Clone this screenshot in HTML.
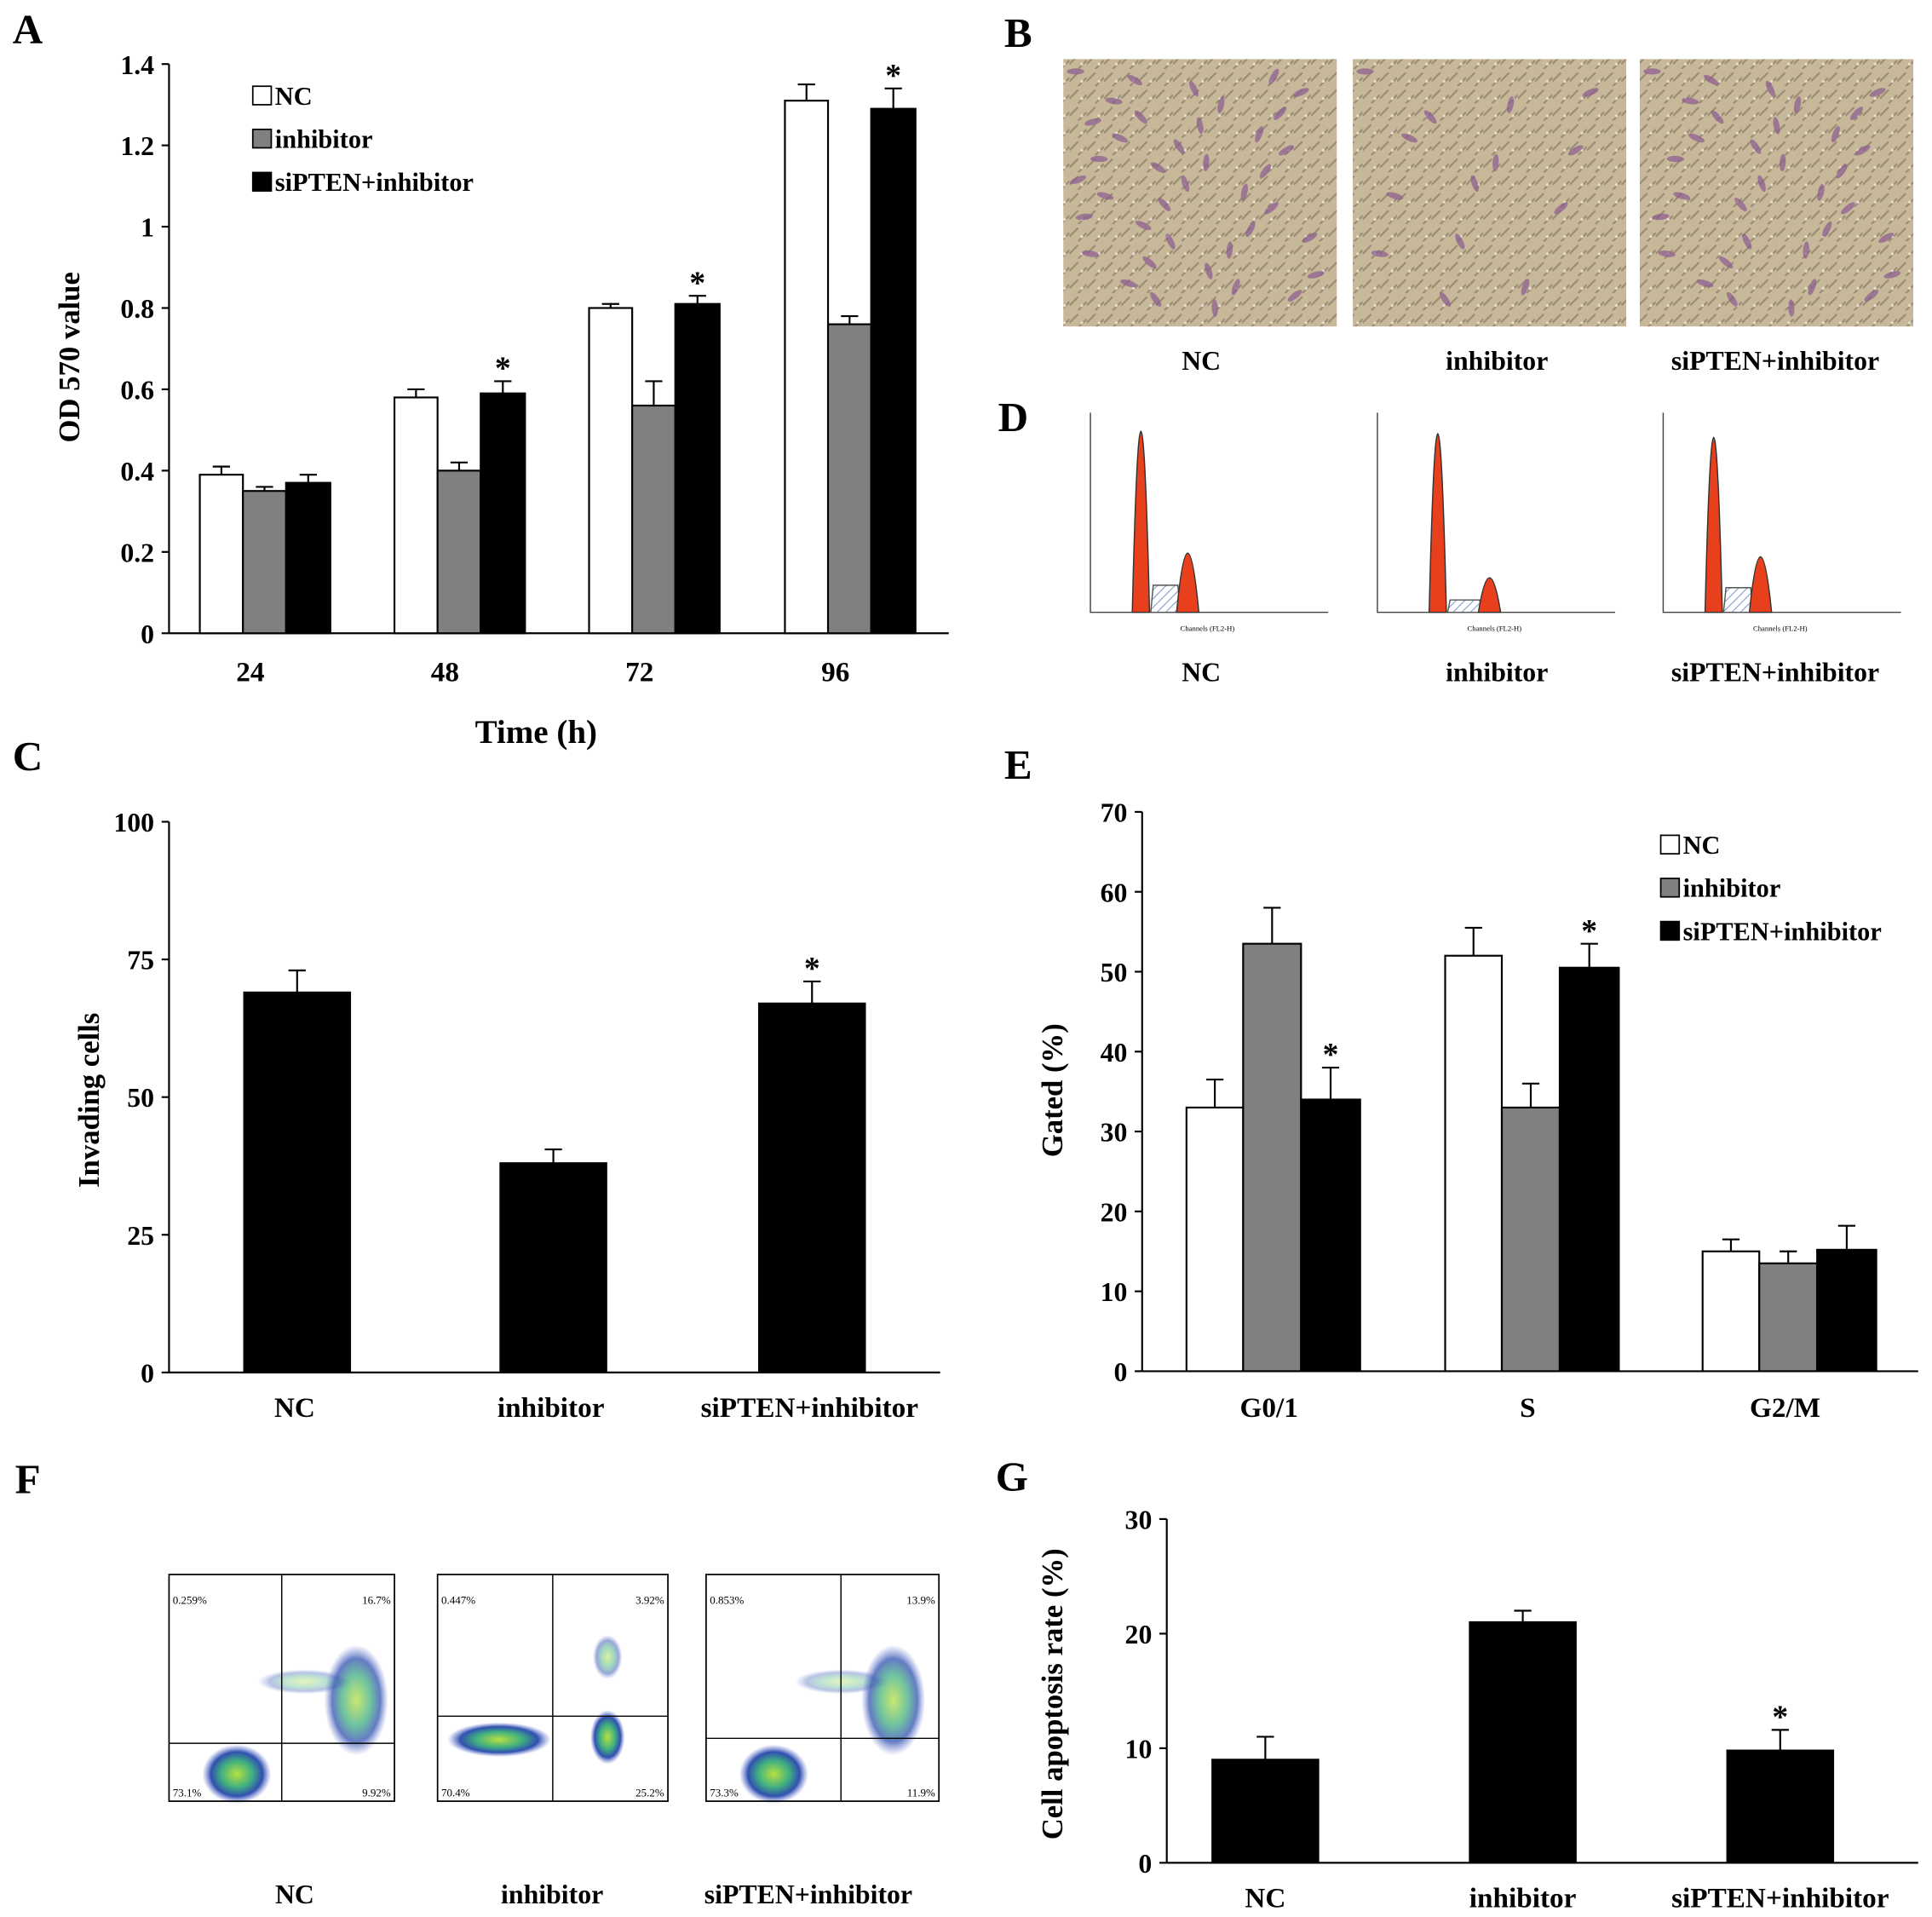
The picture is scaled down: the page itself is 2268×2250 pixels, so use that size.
<!DOCTYPE html>
<html><head><meta charset="utf-8"><style>
html,body{margin:0;padding:0;background:#fff}
svg{display:block}
text{font-family:"Liberation Serif",serif;font-weight:bold;fill:#000}
</style></head><body>
<svg id="s" width="2268" height="2250" viewBox="0 0 1568 1556" xmlns="http://www.w3.org/2000/svg">
<defs>
<pattern id="hatch" width="5" height="5" patternUnits="userSpaceOnUse" patternTransform="rotate(45)"><rect width="5" height="5" fill="#fff"/><line x1="0" y1="0" x2="0" y2="5" stroke="#8899cc" stroke-width="1.5"/></pattern>
<pattern id="tex" width="14" height="14" patternUnits="userSpaceOnUse"><rect width="14" height="14" fill="#c6b898"/><path d="M0 10 L7 3 M7 14 L14 7" stroke="#9a8c74" stroke-width="1.5"/><circle cx="10" cy="10" r="1.2" fill="#e6dccb"/></pattern>
<radialGradient id="blob"><stop offset="0" stop-color="#b8e040"/><stop offset="0.45" stop-color="#40b080"/><stop offset="0.75" stop-color="#3050b0"/><stop offset="1" stop-color="#6070d0" stop-opacity="0"/></radialGradient>
</defs>
<g id="root"></g>
</svg>
<script>
// Panel A data
const aCats=['24','48','72','96'];
const aNC=[0.39,0.58,0.80,1.31];
const aInh=[0.35,0.40,0.56,0.76];
const aSi=[0.37,0.59,0.81,1.29];
const aNCe=[0.02,0.02,0.01,0.04];
const aInhe=[0.01,0.02,0.06,0.02];
const aSie=[0.02,0.03,0.02,0.05];
const aTicks=['0','0.2','0.4','0.6','0.8','1','1.2','1.4'];
const aStar=[false,true,true,true];
// Panel C data
const cCats=['NC','inhibitor','siPTEN+inhibitor'];
const cVals=[69,38,67];
const cErr=[4,2.5,4];
const cTicks=['0','25','50','75','100'];
const cStar=[false,false,true];
// Panel E data
const eCats=['G0/1','S','G2/M'];
const eNC=[33,52,15];
const eInh=[53.5,33,13.5];
const eSi=[34,50.5,15.2];
const eNCe=[3.5,3.5,1.5];
const eInhe=[4.5,3,1.5];
const eSie=[4,3,3];
const eTicks=['0','10','20','30','40','50','60','70'];
const eStar=[true,true,false];
// Panel G data
const gCats=['NC','inhibitor','siPTEN+inhibitor'];
const gVals=[9,21,9.8];
const gErr=[2,1,1.8];
const gTicks=['0','10','20','30'];
const gStar=[false,false,true];

const NS='http://www.w3.org/2000/svg';
const root=document.getElementById('root');
function el(tag,at,parent,txt){const e=document.createElementNS(NS,tag);for(const k in at)e.setAttribute(k,at[k]);if(txt!==undefined)e.textContent=txt;(parent||root).appendChild(e);return e;}
function label(x,y,t,size,anchor,name,rot){const e=el('text',{x:x,y:y,'font-size':size,'text-anchor':anchor||'middle'},root,t);if(rot)e.setAttribute('transform','rotate(-90 '+x+' '+y+')');

return e;}
function axes(x0,x1,yb,yt,ticks,name){
 const g=el('g',{});
 
 
 el('line',{x1:x0,y1:yt,x2:x0,y2:yb,stroke:'#000','stroke-width':1.5},g);
 el('line',{x1:x0,y1:yb,x2:x1,y2:yb,stroke:'#000','stroke-width':1.5},g);
 const n=ticks.length-1;
 ticks.forEach((t,i)=>{const y=yb-(yb-yt)*i/n;el('line',{x1:x0-6,y1:y,x2:x0,y2:y,stroke:'#000','stroke-width':1.5},g);
  const tx=el('text',{x:x0-12,y:y+8,'font-size':22,'text-anchor':'end'},g,t);
  
  });
}
function bar(x,w,v,e,yb,scale,fill,name,star){
 const y=yb-v*scale;
 const r=el('rect',{x:x,y:y,width:w,height:v*scale,fill:fill,stroke:'#000','stroke-width':1.5});
 
 
 const ye=y-e*scale,cx=x+w/2;
 const l=el('path',{d:'M'+cx+' '+y+'V'+ye+'M'+(cx-7)+' '+ye+'H'+(cx+7),stroke:'#000','stroke-width':1.5,fill:'none'});
 
 
 if(star){label(cx,ye-2,'*',26,'middle','significance-star');}
}
function legend(x,y){
 const items=[['NC','#fff'],['inhibitor','#808080'],['siPTEN+inhibitor','#000']];
 items.forEach((it,i)=>{const yy=y+i*35;const r=el('rect',{x:x,y:yy-15,width:15,height:15,fill:it[1],stroke:'#000','stroke-width':1.2});
  
  
  label(x+18,yy,it[0],21,'start','legend-entry');});
}
const cols=['#fff','#808080','#000'];

// Panel A
label(10,35,'A',34,'start','panel-label-a');
axes(137,770,514,52,aTicks,'panel-a-axes');
const aS=462/1.4;
const aX=[162,320,478,637];
aCats.forEach((c,i)=>{
 bar(aX[i],35,aNC[i],aNCe[i],514,aS,cols[0],'bar-nc-'+c,false);
 bar(aX[i]+35,35,aInh[i],aInhe[i],514,aS,cols[1],'bar-inhibitor-'+c,false);
 bar(aX[i]+70,36,aSi[i],aSie[i],514,aS,cols[2],'bar-sipten-'+c,aStar[i]);
 label(aX[i]+41,553,c,23,'middle','x-tick-label');
});
label(64,290,'OD 570 value',24,'middle','y-axis-title',true);
label(435,603,'Time (h)',27,'middle','x-axis-title');
legend(205,85);

// Panel B
label(815,38,'B',34,'start','panel-label-b');
const bx=[863,1098,1331],bn=['NC','inhibitor','siPTEN+inhibitor'],bc=[975,1215,1441];
bx.forEach((x,i)=>{const r=el('rect',{x:x,y:48,width:222,height:217,fill:'url(#tex)'});
 
 
 for(let k=0;k<[40,14,34][i];k++){const px=x+10+((k*53)%200),py=58+((k*37)%195);
  el('ellipse',{cx:px,cy:py,rx:7,ry:2.5,fill:'#8a5a90',opacity:0.7,transform:'rotate('+((k*47)%180)+' '+px+' '+py+')'});}
 label(bc[i],300,bn[i],22,'middle','image-caption');
});

// Panel D
label(810,350,'D',34,'start','panel-label-d');
const dx=[880,1113,1345],dh1=[147,145,142],dh2=[48,28,45],dS=[22,10,20];
dx.forEach((x,i)=>{const g=el('g',{});
 
 
 el('path',{d:'M'+(x+5)+' 335V497H'+(x+198),stroke:'#444','stroke-width':1,fill:'none'},g);
 const p1=x+46+(i==1?8:0),p2=x+84+(i==1?12:0);
 el('path',{d:'M'+(p1+8)+' 497L'+(p1+10)+' '+(497-dS[i])+'L'+(p2-8)+' '+(497-dS[i])+'L'+(p2-6)+' 497Z',fill:'url(#hatch)',stroke:'#555'},g);
 el('path',{d:'M'+(p1-7)+' 497Q'+p1+' '+(497-2*dh1[i])+' '+(p1+7)+' 497Z',fill:'#e8401c',stroke:'#333'},g);
 el('path',{d:'M'+(p2-9)+' 497Q'+p2+' '+(497-2*dh2[i])+' '+(p2+9)+' 497Z',fill:'#e8401c',stroke:'#333'},g);
 el('text',{x:x+100,y:512,'font-size':6,'text-anchor':'middle',style:'font-weight:normal'},g,'Channels (FL2-H)');
 label(bc[i],553,bn[i],22,'middle','histogram-caption');
});

// Panel C
label(10,625,'C',34,'start','panel-label-c');
axes(137,763,1114,667,cTicks,'panel-c-axes');
const cS=447/100,cX=[198,406,616];
cCats.forEach((c,i)=>{bar(cX[i],86,cVals[i],cErr[i],1114,cS,'#000','bar-'+c,cStar[i]);label(cX[i]+41,1150,c,23,'middle','x-tick-label');});
label(80,893,'Invading cells',24,'middle','y-axis-title',true);

// Panel E
label(815,632,'E',34,'start','panel-label-e');
axes(927,1557,1113,659,eTicks,'panel-e-axes');
const eS=454/70,eX=[963,1173,1382];
eCats.forEach((c,i)=>{
 bar(eX[i],46,eNC[i],eNCe[i],1113,eS,cols[0],'bar-nc-'+c,false);
 bar(eX[i]+46,47,eInh[i],eInhe[i],1113,eS,cols[1],'bar-inhibitor-'+c,false);
 bar(eX[i]+93,48,eSi[i],eSie[i],1113,eS,cols[2],'bar-sipten-'+c,eStar[i]);
 label(eX[i]+67,1150,c,23,'middle','x-tick-label');
});
label(862,885,'Gated (%)',24,'middle','y-axis-title',true);
legend(1348,693);

// Panel F
label(12,1212,'F',34,'start','panel-label-f');
const fx=[137,355,573],fw=[183,187,189];
const fq=[['0.259%','16.7%','73.1%','9.92%'],['0.447%','3.92%','70.4%','25.2%'],['0.853%','13.9%','73.3%','11.9%']];
fx.forEach((x,i)=>{const g=el('g',{});
 
 
 const w=fw[i],qy=i==1?1393:(i==0?1415:1411),qx=x+w*0.5+(i==2?15:0);
 if(i==1){el('ellipse',{cx:x+50,cy:1412,rx:42,ry:14,fill:'url(#blob)'},g);el('ellipse',{cx:x+138,cy:1410,rx:14,ry:22,fill:'url(#blob)'},g);el('ellipse',{cx:x+138,cy:1345,rx:12,ry:18,fill:'url(#blob)',opacity:0.5},g);}
 else{el('ellipse',{cx:x+55,cy:1440,rx:28,ry:24,fill:'url(#blob)'},g);el('ellipse',{cx:x+152,cy:1380,rx:26,ry:45,fill:'url(#blob)',opacity:0.75},g);el('ellipse',{cx:x+110,cy:1365,rx:38,ry:10,fill:'url(#blob)',opacity:0.35},g);}
 el('rect',{x:x,y:1278,width:w,height:184,fill:'none',stroke:'#000','stroke-width':1.2},g);
 el('path',{d:'M'+qx+' 1278V1462M'+x+' '+qy+'H'+(x+w),stroke:'#000','stroke-width':1},g);
 el('text',{x:x+3,y:1302,'font-size':9,style:'font-weight:normal'},g,fq[i][0]);
 el('text',{x:x+w-3,y:1302,'font-size':9,'text-anchor':'end',style:'font-weight:normal'},g,fq[i][1]);
 el('text',{x:x+3,y:1458,'font-size':9,style:'font-weight:normal'},g,fq[i][2]);
 el('text',{x:x+w-3,y:1458,'font-size':9,'text-anchor':'end',style:'font-weight:normal'},g,fq[i][3]);
 label([239,448,656][i],1545,bn[i],22,'middle','flow-caption');
});

// Panel G
label(808,1210,'G',34,'start','panel-label-g');
axes(947,1557,1512,1233,gTicks,'panel-g-axes');
const gS=279/30,gX=[984,1193,1402];
gCats.forEach((c,i)=>{bar(gX[i],86,gVals[i],gErr[i],1512,gS,'#000','bar-'+c,gStar[i]);label(gX[i]+43,1548,c,23,'middle','x-tick-label');});
label(862,1375,'Cell apoptosis rate (%)',24,'middle','y-axis-title',true);
</script>
</body></html>
